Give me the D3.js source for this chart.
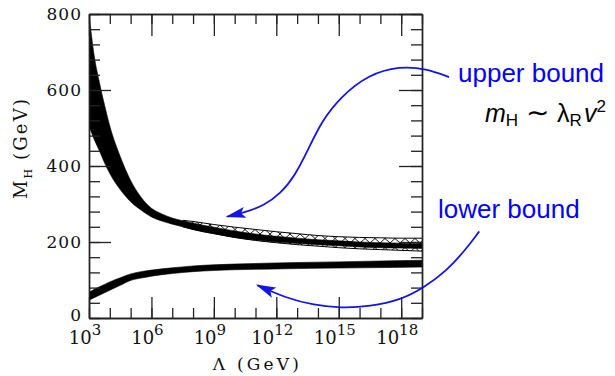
<!DOCTYPE html>
<html>
<head>
<meta charset="utf-8">
<script src="https://cdn.jsdelivr.net/npm/d3@7"></script>
<style>
  body { margin: 0; background: #fff; }
  text { font-family: 'DejaVu Serif', serif; }
</style>
</head>
<body>
<svg id="chart" width="615" height="376"></svg>
<script>
// log10(Lambda / GeV) grids and Higgs mass bounds (GeV)
const upperExp = [3, 3.25, 3.5, 3.75, 4, 4.5, 5, 5.5, 6, 6.5, 7, 7.5, 8, 8.5, 9, 10, 11, 12, 13, 14, 15, 16, 17, 18, 19];
const upperHi = [800, 690, 620, 560, 505, 425, 362, 318, 289, 274, 263, 256, 250, 244, 239, 229, 221, 215, 210, 206, 203, 200, 198, 197, 196];
const upperLo = [505, 470, 440, 408, 380, 338, 306, 284, 266, 255, 247, 240, 233, 227, 222, 212, 205, 200, 196, 193, 190, 187, 185, 184, 183];

const hatchExp = [7.5, 8, 8.5, 9, 10, 11, 12, 13, 14, 15, 16, 17, 18, 19];
const hatchHi = [257, 254, 250, 246, 239, 233, 227, 222, 217, 214, 212, 211, 210, 210];
const hatchLo = [240, 233, 227, 222, 212, 204, 198, 193, 189, 185, 182, 180, 178, 176];

const lowerExp = [3, 3.5, 4, 4.5, 5, 5.5, 6, 7, 8, 9, 10, 12, 14, 16, 19];
const lowerHi = [68, 82, 95, 106, 116, 122, 126, 132, 137, 140, 142, 145, 147, 149, 152];
const lowerLo = [47, 60, 73, 86, 99, 105, 110, 117, 122, 125, 127, 129, 131, 132, 134];

const majorExp = [3, 6, 9, 12, 15, 18];
const minorExp = d3.range(3, 20);
const yMajor = [0, 200, 400, 600, 800];
const yMinor = d3.range(0, 801, 40);

// annotation arrows in data units (exp, GeV)
const upperArrow = [[20.3, 634], [19.2, 656], [17.95, 663], [16.4, 640], [15.1, 582], [14.2, 520], [13.5, 440], [12.9, 375], [12.2, 327], [11.4, 296], [10.5, 278], [9.65, 267]];
const lowerArrow = [[21.75, 228], [21.1, 180], [20.2, 125], [19.1, 80], [18.0, 48], [16.5, 30], [15.1, 26], [13.8, 34], [12.5, 52], [11.1, 86]];

const SVG = { WIDTH: 615, HEIGHT: 376, MARGIN: { left: 89, right: 193, top: 14, bottom: 58 } };
const plotRight = SVG.WIDTH - SVG.MARGIN.right;
const plotBottom = SVG.HEIGHT - SVG.MARGIN.bottom;

const svg = d3.select('#chart');

const x = d3.scaleLog().domain([1e3, 1e19]).range([SVG.MARGIN.left, plotRight]);
const y = d3.scaleLinear().domain([0, 800]).range([plotBottom, SVG.MARGIN.top]);
const xe = (e) => x(Math.pow(10, e));

const defs = svg.append('defs');
defs.append('clipPath').attr('id', 'plot-clip')
  .append('rect')
  .attr('x', SVG.MARGIN.left).attr('y', SVG.MARGIN.top)
  .attr('width', plotRight - SVG.MARGIN.left).attr('height', plotBottom - SVG.MARGIN.top);

const pat = defs.append('pattern').attr('id', 'xhatch')
  .attr('patternUnits', 'userSpaceOnUse').attr('width', 10).attr('height', 9);
pat.append('path').attr('d', 'M0,0L10,9M10,0L0,9').attr('stroke', '#000').attr('stroke-width', 0.9);

defs.append('marker').attr('id', 'arrow-blue')
  .attr('viewBox', '0 -6 20 12').attr('refX', 18).attr('refY', 0)
  .attr('markerWidth', 20).attr('markerHeight', 12)
  .attr('markerUnits', 'userSpaceOnUse').attr('orient', 'auto')
  .append('path').attr('d', 'M0,-5.5L20,0L0,5.5L4,0Z').attr('fill', '#1414e6');

const plot = svg.append('g').attr('clip-path', 'url(#plot-clip)');

const band = (exps, hi, lo) => exps.map((e, i) => ({ e, hi: hi[i], lo: lo[i] }));
const area = d3.area().x((d) => xe(d.e)).y0((d) => y(d.lo)).y1((d) => y(d.hi)).curve(d3.curveMonotoneX);
const line = (key) => d3.line().x((d) => xe(d.e)).y((d) => y(d[key])).curve(d3.curveMonotoneX);

// hatched region of the upper bound
const hatch = band(hatchExp, hatchHi, hatchLo);
plot.append('path').datum(hatch).attr('d', area).attr('fill', 'url(#xhatch)');
['hi', 'lo'].forEach((k) => {
  plot.append('path').datum(hatch).attr('d', line(k))
    .attr('fill', 'none').attr('stroke', '#000').attr('stroke-width', 1);
});

// solid bands
[band(upperExp, upperHi, upperLo), band(lowerExp, lowerHi, lowerLo)].forEach((b) => {
  plot.append('path').datum(b).attr('d', area)
    .attr('fill', '#000').attr('stroke', '#000').attr('stroke-width', 0.6);
});

// axes
const axisStyle = (g) => {
  g.selectAll('path.domain').attr('stroke', '#222').attr('stroke-width', 1.4);
  g.selectAll('.tick line').attr('stroke', '#222').attr('stroke-width', 1.3);
  g.selectAll('.tick text').remove();
};
const xTicks = (axisFn, yPos, minorLen, majorLen) => {
  svg.append('g').attr('transform', `translate(0,${yPos})`)
    .call(axisFn(x).tickValues(minorExp.map((e) => Math.pow(10, e))).tickSize(minorLen).tickSizeOuter(0))
    .call(axisStyle);
  svg.append('g').attr('transform', `translate(0,${yPos})`)
    .call(axisFn(x).tickValues(majorExp.map((e) => Math.pow(10, e))).tickSize(majorLen).tickSizeOuter(0))
    .call(axisStyle);
};
xTicks(d3.axisBottom, plotBottom, -10, -21);
xTicks(d3.axisTop, SVG.MARGIN.top, -10, -22);

const yTicks = (axisFn, xPos, minorLen, majorLen) => {
  svg.append('g').attr('transform', `translate(${xPos},0)`)
    .call(axisFn(y).tickValues(yMinor).tickSize(minorLen).tickSizeOuter(0))
    .call(axisStyle);
  svg.append('g').attr('transform', `translate(${xPos},0)`)
    .call(axisFn(y).tickValues(yMajor).tickSize(majorLen).tickSizeOuter(0))
    .call(axisStyle);
};
yTicks(d3.axisLeft, SVG.MARGIN.left, -11, -22);
yTicks(d3.axisRight, plotRight, -11, -23);

// tick labels
svg.append('g').selectAll('text').data(yMajor).join('text')
  .attr('x', SVG.MARGIN.left - 7).attr('y', (d) => y(d) + (d === 0 ? 3 : 6))
  .attr('text-anchor', 'end').attr('font-size', 17).attr('letter-spacing', 1)
  .attr('fill', '#111').text((d) => d);

const xl = svg.append('g').selectAll('text').data(majorExp).join('text')
  .attr('x', (d) => xe(d) - 4).attr('y', plotBottom + 26)
  .attr('text-anchor', 'middle').attr('font-size', 18).attr('fill', '#111');
xl.append('tspan').text('10');
xl.append('tspan').attr('dy', -9).attr('font-size', 15).text((d) => d);

// axis titles
svg.append('text')
  .attr('x', (SVG.MARGIN.left + plotRight) / 2 + 2).attr('y', 370)
  .attr('text-anchor', 'middle').attr('font-size', 17).attr('letter-spacing', 3.2)
  .attr('fill', '#111').text('Λ (GeV)');

const yt = svg.append('text')
  .attr('transform', 'translate(27,148) rotate(-90)')
  .attr('text-anchor', 'middle').attr('font-size', 18).attr('letter-spacing', 2.2)
  .attr('fill', '#111');
yt.append('tspan').text('M');
yt.append('tspan').attr('dy', 5).attr('font-size', 11).attr('letter-spacing', 1).text('H');
yt.append('tspan').attr('dy', -5).text(' (GeV)');

// annotations
const arrowLine = d3.line().x((d) => xe(d[0])).y((d) => y(d[1])).curve(d3.curveBasis);
[upperArrow, lowerArrow].forEach((pts) => {
  svg.append('path').datum(pts).attr('d', arrowLine)
    .attr('fill', 'none').attr('stroke', '#1414e6').attr('stroke-width', 1.8)
    .attr('marker-end', 'url(#arrow-blue)');
});

svg.append('text').attr('x', 458).attr('y', 82)
  .style('font-family', 'Liberation Sans, Arial, sans-serif').attr('font-size', 26)
  .attr('fill', '#0000ff').text('upper bound');
svg.append('text').attr('x', 438).attr('y', 218)
  .style('font-family', 'Liberation Sans, Arial, sans-serif').attr('font-size', 26)
  .attr('fill', '#0000ff').text('lower bound');

const f = svg.append('text').attr('x', 485).attr('y', 122)
  .style('font-family', 'Liberation Sans, Arial, sans-serif').attr('font-size', 25).attr('fill', '#000');
f.append('tspan').attr('font-style', 'italic').text('m');
f.append('tspan').attr('font-size', 17).attr('dy', 4).text('H');
f.append('tspan').attr('dy', -4).attr('dx', 8).attr('font-size', 28).text('∼');
f.append('tspan').attr('dx', 8).text('λ');
f.append('tspan').attr('font-size', 17).attr('dy', 4).text('R');
f.append('tspan').attr('dy', -4).attr('dx', 2).attr('font-style', 'italic').text('v');
f.append('tspan').attr('font-size', 17).attr('dy', -10).text('2');
</script>
</body>
</html>
